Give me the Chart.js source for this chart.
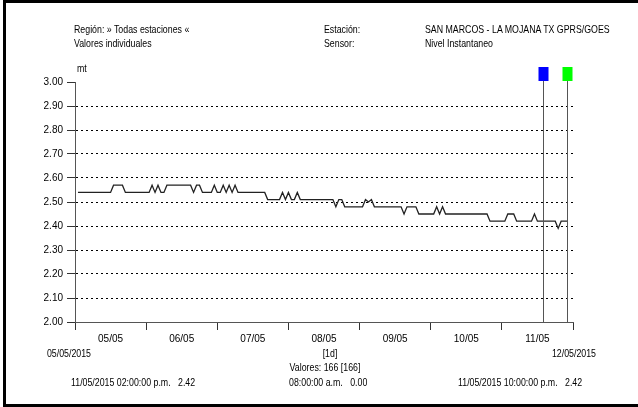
<!DOCTYPE html>
<html>
<head>
<meta charset="utf-8">
<script src="https://cdn.jsdelivr.net/npm/chart.js@4.4.1/dist/chart.umd.min.js"></script>
<style>
body { margin: 0; background: #fff; }
#wrap { position: relative; width: 638px; height: 407px; overflow: hidden;
  font-family: "Liberation Sans", Arial, sans-serif; font-size: 11px; color: #000; }
#frame { position: absolute; left: 3px; top: 0; width: 640px; height: 407px; box-sizing: border-box;
  border-left: 3px solid #000; border-top: 3px solid #000; border-bottom: 3px solid #000; }
#chart { position: absolute; left: 0; top: 0; }
.t { position: absolute; white-space: nowrap; line-height: 14px; transform: scaleX(0.8); transform-origin: 0 50%; }
.t.c { transform: translateX(-50%) scaleX(0.8); transform-origin: 50% 50%; }
</style>
</head>
<body>
<div id="wrap">
  <canvas id="chart" width="638" height="407"></canvas>
  <div id="frame"></div>
  <div class="t" style="left:74px;top:22px">Región: » Todas estaciones «</div>
  <div class="t" style="left:74px;top:36px">Valores individuales</div>
  <div class="t" style="left:324px;top:22px">Estación:</div>
  <div class="t" style="left:324px;top:36px">Sensor:</div>
  <div class="t" style="left:425px;top:22px">SAN MARCOS - LA MOJANA TX GPRS/GOES</div>
  <div class="t" style="left:425px;top:36px">Nivel Instantaneo</div>
  <div class="t" style="left:77px;top:61px">mt</div>
  <div class="t c" style="left:69px;top:346px">05/05/2015</div>
  <div class="t c" style="left:330px;top:346px">[1d]</div>
  <div class="t c" style="left:574px;top:346px">12/05/2015</div>
  <div class="t c" style="left:325px;top:360px" id="count"></div>
  <div class="t" style="left:71px;top:375px" id="cur1"></div>
  <div class="t" style="left:289px;top:375px" id="cur0"></div>
  <div class="t" style="left:458px;top:375px" id="cur2"></div>
</div>
<script>
// hourly readings 05/05/2015 01:00 -> 11/05/2015 22:00 (mt)
const firstHour = 1;
const nivel = [
  2.54, 2.54, 2.54, 2.54, 2.54, 2.54, 2.54, 2.54, 2.54, 2.54, 2.54, 2.54,
  2.57, 2.57, 2.57, 2.57, 2.54, 2.54, 2.54, 2.54, 2.54, 2.54, 2.54, 2.54,
  2.54, 2.57, 2.54, 2.57, 2.54, 2.54, 2.57, 2.57, 2.57, 2.57, 2.57, 2.57,
  2.57, 2.57, 2.57, 2.54, 2.57, 2.57, 2.54, 2.54, 2.54, 2.54, 2.57, 2.54,
  2.54, 2.57, 2.54, 2.57, 2.54, 2.57, 2.54, 2.54, 2.54, 2.54, 2.54, 2.54,
  2.54, 2.54, 2.54, 2.54, 2.51, 2.51, 2.51, 2.51, 2.51, 2.54, 2.51, 2.54,
  2.51, 2.51, 2.54, 2.51, 2.51, 2.51, 2.51, 2.51, 2.51, 2.51, 2.51, 2.51,
  2.51, 2.51, 2.51, 2.48, 2.51, 2.51, 2.48, 2.48, 2.48, 2.48, 2.48, 2.48,
  2.48, 2.51, 2.50, 2.51, 2.48, 2.48, 2.48, 2.48, 2.48, 2.48, 2.48, 2.48,
  2.48, 2.48, 2.45, 2.48, 2.48, 2.48, 2.48, 2.45, 2.45, 2.45, 2.45, 2.45,
  2.45, 2.48, 2.45, 2.48, 2.45, 2.45, 2.45, 2.45, 2.45, 2.45, 2.45, 2.45,
  2.45, 2.45, 2.45, 2.45, 2.45, 2.45, 2.45, 2.42, 2.42, 2.42, 2.42, 2.42,
  2.42, 2.45, 2.45, 2.45, 2.42, 2.42, 2.42, 2.42, 2.42, 2.42, 2.45, 2.42,
  2.42, 2.42, 2.42, 2.42, 2.42, 2.42, 2.39, 2.42, 2.42, 2.42
];

const dayLabels = ['05/05', '06/05', '07/05', '08/05', '09/05', '10/05', '11/05'];
const xTickHours = [0, 12, 24, 36, 48, 60, 72, 84, 96, 108, 120, 132, 144, 156, 168];
const yTickValues = [2.0, 2.1, 2.2, 2.3, 2.4, 2.5, 2.6, 2.7, 2.8, 2.9, 3.0];

// cursors: blue = 11/05 14:00, green = 11/05 22:00
const cursorHours = [158, 166];
const cursorText = ['11/05/2015 02:00:00 p.m.', '11/05/2015 10:00:00 p.m.'];
const cursorValues = [2.42, 2.42];
const deltaText = ['08:00:00 a.m.', 0.00];

document.getElementById('count').textContent = 'Valores: ' + nivel.length + ' [' + nivel.length + ']';
document.getElementById('cur1').innerHTML = cursorText[0] + '&nbsp;&nbsp;&nbsp;' + cursorValues[0].toFixed(2);
document.getElementById('cur2').innerHTML = cursorText[1] + '&nbsp;&nbsp;&nbsp;' + cursorValues[1].toFixed(2);
document.getElementById('cur0').innerHTML = deltaText[0] + '&nbsp;&nbsp;&nbsp;' + deltaText[1].toFixed(2);

const points = nivel.map((v, i) => ({ x: firstHour + i, y: v }));
const tickFont = { family: '"Liberation Sans", Arial, sans-serif', size: 10 };

const cursorPlugin = {
  id: 'cursors',
  afterDatasetsDraw(chart) {
    const { ctx, scales: { x, y } } = chart;
    const colors = ['#0000ff', '#00ff00'];
    ctx.save();
    cursorHours.forEach((h, i) => {
      const px = Math.round(x.getPixelForValue(h)) + 0.5;
      ctx.strokeStyle = '#555';
      ctx.lineWidth = 1;
      ctx.beginPath();
      ctx.moveTo(px, y.top - 1);
      ctx.lineTo(px, y.bottom + 1);
      ctx.stroke();
      ctx.fillStyle = colors[i];
      ctx.fillRect(px - 5, y.top - 15, 10, 14);
    });
    ctx.restore();
  }
};

new Chart(document.getElementById('chart').getContext('2d'), {
  type: 'line',
  data: {
    datasets: [{
      data: points,
      borderColor: '#222',
      borderWidth: 1.3,
      pointRadius: 0,
      tension: 0
    }]
  },
  options: {
    responsive: false,
    animation: false,
    layout: { padding: { left: 0, top: 82, right: 65, bottom: 55 } },
    plugins: { legend: { display: false }, tooltip: { enabled: false } },
    scales: {
      x: {
        type: 'linear',
        min: 0,
        max: 168,
        afterBuildTicks: s => { s.ticks = xTickHours.map(v => ({ value: v })); },
        afterFit: s => { s.height = 30; },
        grid: {
          drawOnChartArea: false,
          tickLength: 8,
          tickColor: c => (c.tick && c.tick.value % 24 === 0) ? '#333' : 'transparent'
        },
        border: { color: '#555' },
        ticks: {
          autoSkip: false,
          maxRotation: 0,
          padding: 3,
          color: '#000',
          font: tickFont,
          callback: v => (v % 24 === 12) ? dayLabels[(v - 12) / 24] : ''
        }
      },
      y: {
        min: 2,
        max: 3,
        afterBuildTicks: s => { s.ticks = yTickValues.map(v => ({ value: v })); },
        afterFit: s => { s.width = 75; },
        grid: {
          color: c => (c.tick && c.tick.value > 2.05 && c.tick.value < 2.95) ? '#000' : 'transparent',
          tickColor: '#333',
          tickLength: 8,
          lineWidth: 1
        },
        border: { color: '#555', dash: [2, 3] },
        ticks: {
          padding: 4,
          color: '#000',
          font: tickFont,
          callback: v => Number(v).toFixed(2)
        }
      }
    }
  },
  plugins: [cursorPlugin]
});
</script>
</body>
</html>
